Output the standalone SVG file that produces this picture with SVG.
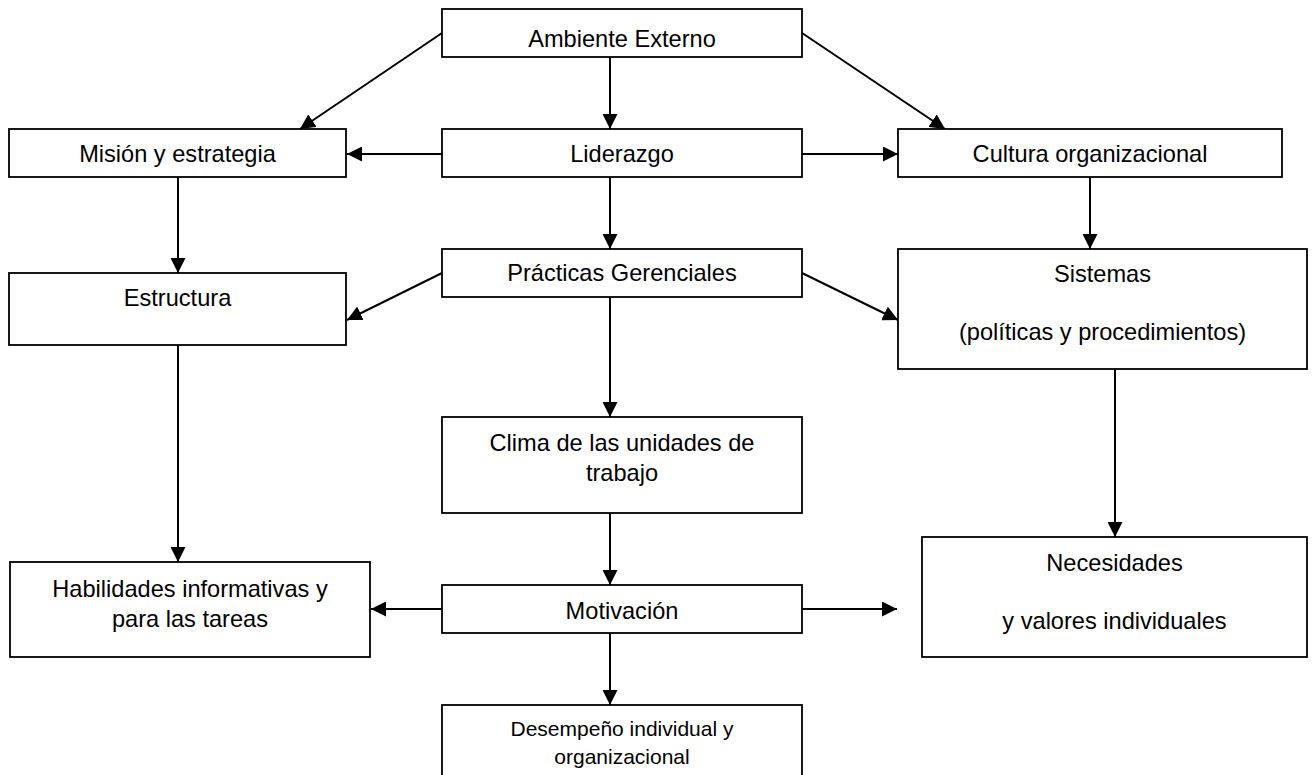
<svg xmlns="http://www.w3.org/2000/svg" width="1314" height="775" viewBox="0 0 1314 775">
  <style>
    .box { fill: #ffffff; stroke: #000000; stroke-width: 1.8; }
    .lbl { font-family: "Liberation Sans", Arial, sans-serif; font-size: 23.6px; fill: #000000; text-anchor: middle; }
    .sm { font-size: 21px; }
    .wire { fill: none; stroke: #000000; stroke-width: 2; marker-end: url(#head); }
  </style>
  <defs>
    <marker id="head" markerUnits="userSpaceOnUse" markerWidth="15" markerHeight="15" refX="15" refY="7.5" orient="auto">
      <path d="M0,0 L15,7.5 L0,15 Z" fill="#000000"/>
    </marker>
  </defs>
  <rect width="1314" height="775" fill="#ffffff"/>

  <g id="connectors">
    <line class="wire" x1="442" y1="33" x2="300" y2="129"/>
    <line class="wire" x1="802" y1="33" x2="945" y2="129"/>
    <line class="wire" x1="610" y1="57" x2="610" y2="129"/>
    <line class="wire" x1="442" y1="154" x2="347" y2="154"/>
    <line class="wire" x1="802" y1="154" x2="898" y2="154"/>
    <line class="wire" x1="178" y1="177" x2="178" y2="273"/>
    <line class="wire" x1="610" y1="177" x2="610" y2="249"/>
    <line class="wire" x1="1090" y1="177" x2="1090" y2="249"/>
    <line class="wire" x1="442" y1="273" x2="347" y2="320"/>
    <line class="wire" x1="802" y1="273" x2="898" y2="320"/>
    <line class="wire" x1="610" y1="297" x2="610" y2="417"/>
    <line class="wire" x1="178" y1="345" x2="178" y2="562"/>
    <line class="wire" x1="1115" y1="369" x2="1115" y2="537"/>
    <line class="wire" x1="610" y1="513" x2="610" y2="585"/>
    <line class="wire" x1="442" y1="609" x2="371" y2="609"/>
    <line class="wire" x1="802" y1="609" x2="897" y2="609"/>
    <line class="wire" x1="610" y1="633" x2="610" y2="705"/>
  </g>

  <g id="ambiente-externo">
    <rect class="box" x="442" y="9" width="360" height="48"/>
    <text class="lbl" x="622" y="47">Ambiente Externo</text>
  </g>
  <g id="mision-estrategia">
    <rect class="box" x="9" y="129" width="337" height="48"/>
    <text class="lbl" x="177.5" y="162">Misión y estrategia</text>
  </g>
  <g id="liderazgo">
    <rect class="box" x="442" y="129" width="360" height="48"/>
    <text class="lbl" x="622" y="162">Liderazgo</text>
  </g>
  <g id="cultura-organizacional">
    <rect class="box" x="898" y="129" width="384" height="48"/>
    <text class="lbl" x="1090" y="162">Cultura organizacional</text>
  </g>
  <g id="estructura">
    <rect class="box" x="9" y="273" width="337" height="72"/>
    <text class="lbl" x="177.5" y="306">Estructura</text>
  </g>
  <g id="practicas-gerenciales">
    <rect class="box" x="442" y="249" width="360" height="48"/>
    <text class="lbl" x="622" y="281">Prácticas Gerenciales</text>
  </g>
  <g id="sistemas">
    <rect class="box" x="898" y="249" width="409" height="120"/>
    <text class="lbl" x="1102.5" y="282">Sistemas</text>
    <text class="lbl" x="1102.5" y="340">(políticas y procedimientos)</text>
  </g>
  <g id="clima">
    <rect class="box" x="442" y="417" width="360" height="96"/>
    <text class="lbl" x="622" y="451">Clima de las unidades de</text>
    <text class="lbl" x="622" y="481">trabajo</text>
  </g>
  <g id="habilidades">
    <rect class="box" x="10" y="562" width="360" height="95"/>
    <text class="lbl" x="190" y="597">Habilidades informativas y</text>
    <text class="lbl" x="190" y="627">para las tareas</text>
  </g>
  <g id="motivacion">
    <rect class="box" x="442" y="585" width="360" height="48"/>
    <text class="lbl" x="622" y="619">Motivación</text>
  </g>
  <g id="necesidades">
    <rect class="box" x="922" y="537" width="385" height="120"/>
    <text class="lbl" x="1114.5" y="571">Necesidades</text>
    <text class="lbl" x="1114.5" y="629">y valores individuales</text>
  </g>
  <g id="desempeno">
    <rect class="box" x="442" y="705" width="360" height="80"/>
    <text class="lbl sm" x="622" y="736">Desempeño individual y</text>
    <text class="lbl sm" x="622" y="764">organizacional</text>
  </g>
</svg>
